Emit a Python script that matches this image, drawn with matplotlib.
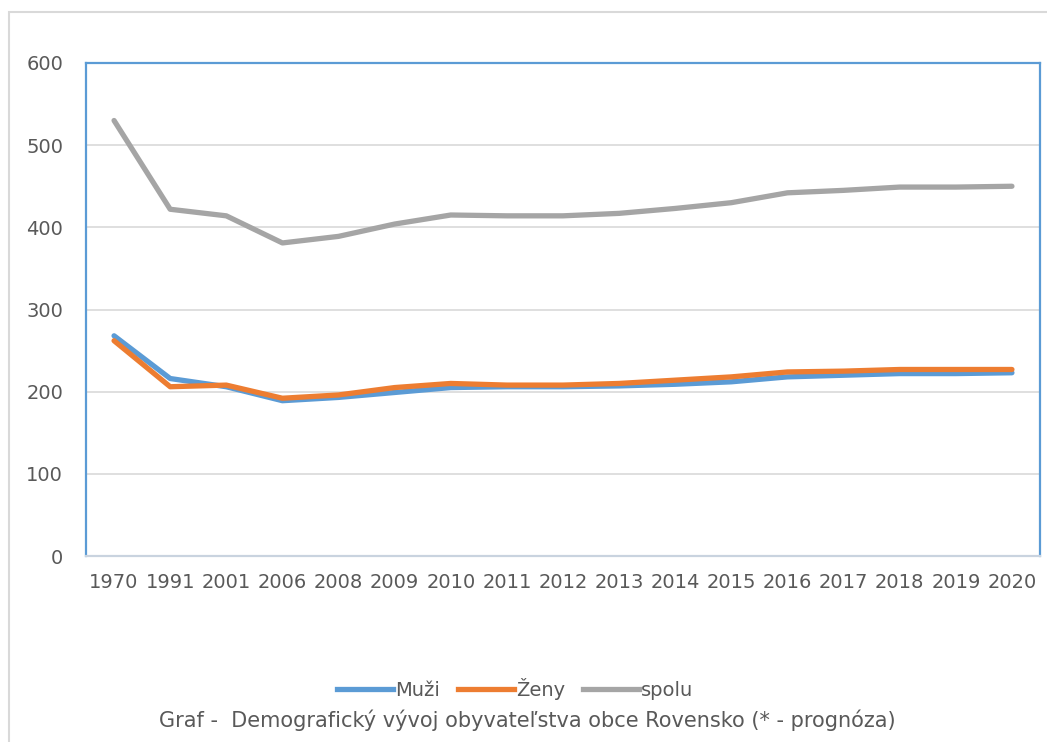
import matplotlib
matplotlib.use("Agg")
import matplotlib.pyplot as plt
from matplotlib.lines import Line2D
from matplotlib.patches import Rectangle

years = ["1970", "1991", "2001", "2006", "2008", "2009", "2010", "2011", "2012",
         "2013", "2014", "2015", "2016", "2017", "2018", "2019", "2020"]
muzi = [268, 216, 206, 189, 193, 199, 205, 206, 206, 207, 209, 212, 218, 220, 222, 222, 223]
zeny = [262, 206, 208, 192, 196, 205, 210, 208, 208, 210, 214, 218, 224, 225, 227, 227, 227]
spolu = [530, 422, 414, 381, 389, 404, 415, 414, 414, 417, 423, 430, 442, 445, 449, 449, 450]
series_names = ["Muži", "Ženy", "spolu"]
caption = "Graf -  Demografický vývoj obyvateľstva obce Rovensko (* - prognóza)"

colors = ["#5B9BD5", "#ED7D31", "#A5A5A5"]
text_color = "#595959"

W, H = 1047, 742
fig = plt.figure(figsize=(W / 100, H / 100), dpi=100)
fig.patch.set_facecolor("white")

# outer chart border
fig.add_artist(Rectangle((8.5 / W, -0.01), 1.1, 1 - 11.5 / H + 0.01,
                         transform=fig.transFigure, fill=False,
                         edgecolor="#D9D9D9", linewidth=1.5))

ax = fig.add_axes([86 / W, 1 - 556 / H, (1040 - 86) / W, (556 - 63) / H])
x = list(range(len(years)))
for vals, c, name in zip([muzi, zeny, spolu], colors, series_names):
    ax.plot(x, vals, color=c, linewidth=3.8, solid_capstyle="round",
            solid_joinstyle="round", label=name, zorder=3)

ax.set_xlim(-0.5, len(years) - 0.5)
ax.set_ylim(0, 600)
ax.set_yticks(range(0, 601, 100))
ax.set_xticks(x)
ax.set_xticklabels(years)
ax.grid(axis="y", color="#D9D9D9", linewidth=1.2, zorder=0)
ax.tick_params(axis="both", length=0, colors=text_color, labelsize=14)
ax.tick_params(axis="y", pad=16.5)
ax.tick_params(axis="x", pad=12.5)
for s in ["left", "top", "right"]:
    ax.spines[s].set_color("#5B9BD5")
    ax.spines[s].set_linewidth(1.6)
ax.spines["bottom"].set_color("#C9D3DF")
ax.spines["bottom"].set_linewidth(1.6)

handles = [Line2D([0], [0], color=c, linewidth=3.8) for c in colors]
fig.legend(handles, series_names, loc="center", bbox_to_anchor=(515 / W, 1 - 689 / H),
           ncol=3, frameon=False, fontsize=14, labelcolor=text_color,
           handlelength=2.9, handletextpad=0.1, columnspacing=0.9)
fig.text(527 / W, 1 - 720 / H, caption, ha="center", va="center",
         fontsize=15, color=text_color)

fig.savefig("out.png", dpi=100, facecolor="white")
